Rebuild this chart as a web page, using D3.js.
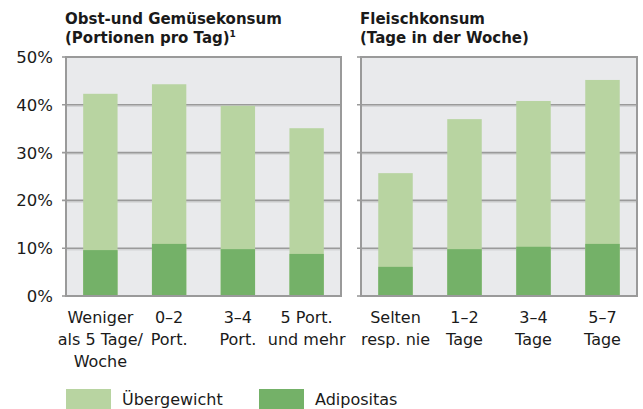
<!DOCTYPE html>
<html>
<head>
<meta charset="utf-8">
<script src="https://cdn.jsdelivr.net/npm/d3@7"></script>
<style>
  body { margin: 0; background: #fff; }
  text { font-family: "DejaVu Sans", sans-serif; fill: #1a1a1a; }
</style>
</head>
<body>
<div id="chart"></div>
<script>
// Chart size
width = 643;
height = 409;

// Data (percent)
let fruitCats = [["Weniger", "als 5 Tage/", "Woche"], ["0–2", "Port."], ["3–4", "Port."], ["5 Port.", "und mehr"]];
let fruitTotal = [42.3, 44.3, 39.8, 35.1];   // Übergewicht (incl. Adipositas)
let fruitAdipo = [9.6, 10.9, 9.8, 8.8];

let meatCats = [["Selten", "resp. nie"], ["1–2", "Tage"], ["3–4", "Tage"], ["5–7", "Tage"]];
let meatTotal = [25.7, 37.0, 40.8, 45.2];
let meatAdipo = [6.1, 9.8, 10.3, 10.9];

let yTicks = [0, 10, 20, 30, 40, 50];

let lightGreen = "#b8d4a1";
let darkGreen = "#74b168";

let svg = d3.select("#chart").append("svg").attr("width", width).attr("height", height);

let yScale = d3.scaleLinear()
    .domain([0, 50])
    .range([296, 57]);

// y tick labels (left panel only)
svg.append("g").selectAll("text").data(yTicks).enter().append("text")
    .attr("x", 53)
    .attr("y", d => yScale(d) + 6)
    .attr("text-anchor", "end")
    .style("font-size", "16.5px")
    .text(d => d + "%");

function panel(x0, x1, cats, total, adipo, title) {
  let g = svg.append("g");
  let xScale = d3.scaleBand()
      .domain(d3.range(cats.length))
      .range([x0, x1])
      .paddingInner(0.5)
      .paddingOuter(0.25);

  // background
  g.append("rect")
      .attr("x", x0).attr("y", yScale(50))
      .attr("width", x1 - x0).attr("height", yScale(0) - yScale(50))
      .attr("fill", "#e9eaec");

  // gridlines (with a light shadow below)
  g.append("g").selectAll("line").data(yTicks.slice(1, -1)).enter().append("line")
      .attr("x1", x0).attr("x2", x1)
      .attr("y1", d => yScale(d) + 1.5).attr("y2", d => yScale(d) + 1.5)
      .attr("stroke", "#d3d4d6").attr("stroke-width", 1.5);
  g.append("g").selectAll("line").data(yTicks.slice(1, -1)).enter().append("line")
      .attr("x1", x0 - 4).attr("x2", x1)
      .attr("y1", d => yScale(d)).attr("y2", d => yScale(d))
      .attr("stroke", "#9a9a9a").attr("stroke-width", 1.6);

  // bars
  g.append("g").selectAll("rect").data(total).enter().append("rect")
      .attr("x", (d, i) => xScale(i))
      .attr("width", xScale.bandwidth())
      .attr("y", d => yScale(d))
      .attr("height", d => yScale(0) - yScale(d))
      .attr("fill", lightGreen);
  g.append("g").selectAll("rect").data(adipo).enter().append("rect")
      .attr("x", (d, i) => xScale(i))
      .attr("width", xScale.bandwidth())
      .attr("y", d => yScale(d))
      .attr("height", d => yScale(0) - yScale(d))
      .attr("fill", darkGreen);

  // frame
  g.append("rect")
      .attr("x", x0).attr("y", yScale(50))
      .attr("width", x1 - x0).attr("height", yScale(0) - yScale(50))
      .attr("fill", "none").attr("stroke", "#9a9a9a").attr("stroke-width", 2);
  // outer ticks at 0 and 50
  g.append("g").selectAll("line").data([0, 50]).enter().append("line")
      .attr("x1", x0 - 4).attr("x2", x0)
      .attr("y1", d => yScale(d)).attr("y2", d => yScale(d))
      .attr("stroke", "#9a9a9a").attr("stroke-width", 1.6);

  // category labels
  cats.forEach((lines, i) => {
    let t = g.append("text")
        .attr("x", xScale(i) + xScale.bandwidth() / 2)
        .attr("y", 323)
        .attr("text-anchor", "middle")
        .style("font-size", "16px");
    lines.forEach((l, j) => {
      t.append("tspan").attr("x", xScale(i) + xScale.bandwidth() / 2)
          .attr("dy", j == 0 ? 0 : 22).text(l);
    });
  });

  // title
  let tt = g.append("text")
      .attr("x", x0 - 1).attr("y", 24)
      .style("font-size", "15px").style("font-weight", "bold");
  tt.append("tspan").attr("x", x0 - 1).text(title[0]);
  tt.append("tspan").attr("x", x0 - 1).attr("dy", 19).text(title[1]);
  if (title[2]) {
    tt.append("tspan").attr("dy", -6).style("font-size", "9px").text(title[2]);
  }
}

panel(66, 341, fruitCats, fruitTotal, fruitAdipo, ["Obst-und Gemüsekonsum", "(Portionen pro Tag)", "1"]);
panel(361, 637, meatCats, meatTotal, meatAdipo, ["Fleischkonsum", "(Tage in der Woche)"]);

// legend
let legend = [["Übergewicht", lightGreen, 66], ["Adipositas", darkGreen, 259]];
let lg = svg.append("g").selectAll("g").data(legend).enter().append("g");
lg.append("rect")
    .attr("x", d => d[2]).attr("y", 389)
    .attr("width", 45).attr("height", 20)
    .attr("fill", d => d[1]);
lg.append("text")
    .attr("x", d => d[2] + 56).attr("y", 405)
    .style("font-size", "16px")
    .text(d => d[0]);
</script>
</body>
</html>
